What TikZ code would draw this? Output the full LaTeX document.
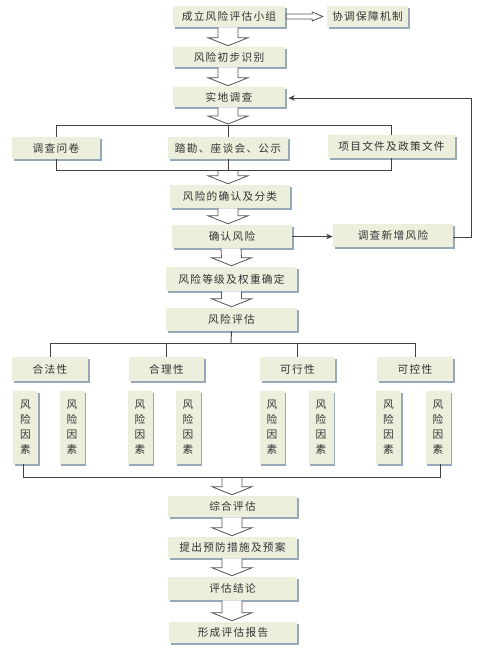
\documentclass[tikz,border=0pt]{standalone}
\usepackage{fontspec}
\newfontfamily\cjk[LetterSpace=12]{Noto Sans CJK SC}
\usetikzlibrary{calc,shadows,arrows.meta}
\definecolor{boxc}{HTML}{ECEFDC}
\definecolor{shadc}{HTML}{97A9B8}
\definecolor{txtc}{HTML}{333333}
\definecolor{linec}{HTML}{404040}
\definecolor{arrc}{HTML}{555555}
\tikzset{
  box/.style={fill=boxc, text=txtc, inner sep=0pt,
    font=\cjk\fontsize{8}{10}\selectfont,
    general shadow={fill=shadc, shadow xshift=1.3pt, shadow yshift=-1.3pt}},
  vbox/.style={box, align=center, font=\cjk\fontsize{8}{11.2}\selectfont},
  conn/.style={draw=linec, line width=0.7pt},
  blk/.style={draw=arrc, fill=white, line width=0.6pt, line join=miter},
  tip/.style={-{Stealth[length=5pt,width=4pt]}}
}
\newcommand\mkbox[6]{\node[box,minimum width=#4*0.75pt,minimum height=#5*0.75pt] (#1) at (#2,#3) {#6};}
\newcommand\mkvbox[3]{\node[vbox,minimum width=25*0.75pt,minimum height=73*0.75pt] (#1) at (#2,427.5) {#3};}
% block arrow from coordinate/anchor #1 down to anchor #2 centred at x of #2
\newcommand\blkdown[2]{%
  \draw[blk] ($(#1)+(-10,0)$) -- ($(#2)+(-10,-9)$) -- ($(#2)+(-20,-9)$) -- ($(#2)+(0,-1)$)
   -- ($(#2)+(20,-9)$) -- ($(#2)+(10,-9)$) -- ($(#1)+(10,0)$);}
\begin{document}
\begin{tikzpicture}[x=0.75pt,y=-0.75pt]
\useasboundingbox (0,0) rectangle (478,663);
% top chain
\mkbox{n1}{229}{16.5}{112}{21}{成立风险评估小组}
\mkbox{n2}{367.5}{16.5}{81}{21}{协调保障机制}
\mkbox{n3}{229}{57}{112}{20}{风险初步识别}
\mkbox{n4}{229}{97}{112}{20}{实地调查}
\mkbox{q1}{56}{148}{88}{22}{调查问卷}
\mkbox{q2}{228}{148}{120}{22}{踏勘、座谈会、公示}
\mkbox{q3}{391.5}{146.5}{127}{23}{项目文件及政策文件}
\mkbox{n5}{230}{196.5}{120}{23}{风险的确认及分类}
\mkbox{n6}{232}{236.5}{120}{23}{确认风险}
\mkbox{n7}{393}{235.5}{120}{23}{调查新增风险}
\mkbox{n8}{231.5}{279}{131}{24}{风险等级及权重确定}
\mkbox{n9}{231.5}{319.5}{131}{23}{风险评估}
\mkbox{c1}{50}{369}{76}{24}{合法性}
\mkbox{c2}{166.5}{369}{75}{24}{合理性}
\mkbox{c3}{297.5}{369}{75}{24}{可行性}
\mkbox{c4}{415}{369}{76}{24}{可控性}
\mkvbox{f1}{25.5}{风\\险\\因\\素}
\mkvbox{f2}{72}{风\\险\\因\\素}
\mkvbox{f3}{140}{风\\险\\因\\素}
\mkvbox{f4}{188}{风\\险\\因\\素}
\mkvbox{f5}{272}{风\\险\\因\\素}
\mkvbox{f6}{321}{风\\险\\因\\素}
\mkvbox{f7}{388.5}{风\\险\\因\\素}
\mkvbox{f8}{438}{风\\险\\因\\素}
\mkbox{n10}{232.5}{506.5}{129}{21}{综合评估}
\mkbox{n11}{232.5}{547.5}{129}{21}{提出预防措施及预案}
\mkbox{n12}{232.5}{588.5}{129}{23}{评估结论}
\mkbox{n13}{233}{632.5}{128}{21}{形成评估报告}

% coordinates
\coordinate (qt) at (228,125);
\coordinate (qb) at (228,170);
\coordinate (ct) at (231,343);
\coordinate (fb) at (232,477);
\coordinate (fbl) at (23,477);
\coordinate (fbr) at (440,477);
\coordinate (rt) at (471,98);
\coordinate (rb) at (471,237);

% block arrows
\blkdown{$(n1.south)+(-1,0)$}{$(n3.north)+(-1,0)$}
\blkdown{$(n3.south)+(-1,0)$}{$(n4.north)+(-1,0)$}
\blkdown{$(n4.south)+(-1,0)$}{qt}
\blkdown{qb}{$(n5.north)+(-2,0)$}
\blkdown{$(n5.south)+(-2,0)$}{$(n6.north)+(-4,0)$}
\blkdown{$(n6.south)+(-1,0)$}{n8.north}
\blkdown{n8.south}{n9.north}
\blkdown{fb}{$(n10.north)+(-0.5,0)$}
\blkdown{$(n10.south)+(-0.5,0)$}{$(n11.north)+(-0.5,0)$}
\blkdown{$(n11.south)+(-0.5,0)$}{$(n12.north)+(-0.5,0)$}
\blkdown{$(n12.south)+(-0.5,0)$}{$(n13.north)+(-1,0)$}
% horizontal block arrow
\draw[blk] ($(n1.east)+(1,-2.5)$) -- ++(26,0) -- ++(0,-2) -- ($(n2.west)+(-4,0)$)
  -- ($(n1.east)+(27,4.5)$) -- ++(0,-2) -- ($(n1.east)+(1,2.5)$) -- cycle;

% survey fan
\draw[conn] (qt) -| (q1.north);
\draw[conn] (qt) -| (q3.north);
\draw[conn] (qt) -- (q2.north);
\draw[conn] (q1.south) |- (qb);
\draw[conn] (q3.south) |- (qb);
\draw[conn] (q2.south) -- (qb);

% confirm -> new risk -> field survey
\draw[conn,tip] (n6.east) -- (n6.east -| n7.west);
\draw[conn,tip] (n7.east |- rb) -- (rb) -- (rt) -- ($(n4.east)+(3,1)$);

% evaluation fan
\draw[conn] (n9.south) -- (ct);
\draw[conn] (ct) -| (c1.north);
\draw[conn] (ct) -| (c2.north);
\draw[conn] (ct) -| (c3.north);
\draw[conn] (ct) -| (c4.north);

% bottom collector
\draw[conn] (f1.south -| fbl) -- (fbl) -- (fbr) -- (f8.south -| fbr);
\end{tikzpicture}
\end{document}
